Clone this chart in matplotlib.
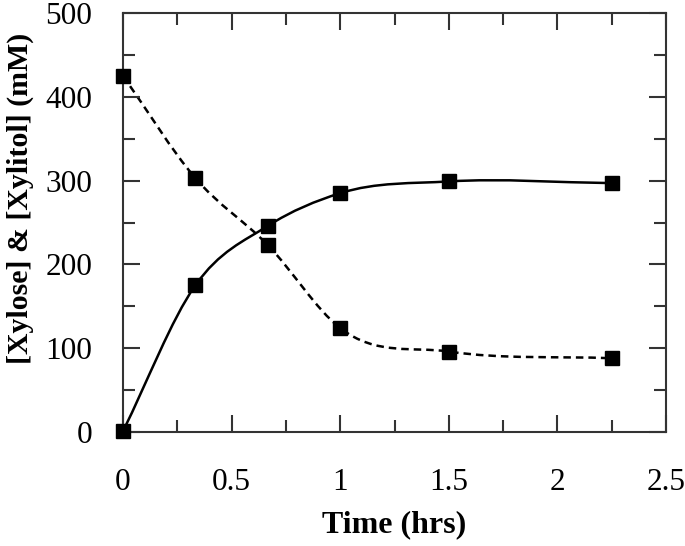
import numpy as np
import matplotlib
matplotlib.use('Agg')
from matplotlib import pyplot as plt
from matplotlib.path import Path
from matplotlib.patches import PathPatch
from matplotlib.ticker import MultipleLocator

time_hrs = [0, 0.333, 0.667, 1.0, 1.5, 2.25]
xylose = [425, 303, 223, 124, 96, 88]
xylitol = [1, 175, 246, 285, 299, 297]


def smooth_path(x, y):
    """cubic bezier path through the points (finite-difference tangents)."""
    x = np.asarray(x, float)
    y = np.asarray(y, float)
    n = len(x)
    m = np.zeros(n)
    for i in range(1, n - 1):
        d0 = (y[i] - y[i - 1]) / (x[i] - x[i - 1])
        d1 = (y[i + 1] - y[i]) / (x[i + 1] - x[i])
        h0 = x[i] - x[i - 1]
        h1 = x[i + 1] - x[i]
        m[i] = (d0 * h1 + d1 * h0) / (h0 + h1)
    m[0] = (y[1] - y[0]) / (x[1] - x[0])
    m[-1] = (y[-1] - y[-2]) / (x[-1] - x[-2])
    verts = [(x[0], y[0])]
    codes = [Path.MOVETO]
    for i in range(n - 1):
        h = x[i + 1] - x[i]
        verts += [(x[i] + h / 3, y[i] + m[i] * h / 3),
                  (x[i + 1] - h / 3, y[i + 1] - m[i + 1] * h / 3),
                  (x[i + 1], y[i + 1])]
        codes += [Path.CURVE4] * 3
    return Path(verts, codes)


plt.rcParams['font.family'] = ['Liberation Serif', 'DejaVu Serif']

fig = plt.figure(figsize=(6.85, 5.46), dpi=100)
ax = fig.add_axes([123 / 685, 1 - 432 / 546, 543 / 685, 419 / 546])

ax.add_patch(PathPatch(smooth_path(time_hrs, xylose), fill=False, color='black',
                       linewidth=1.8, linestyle=(0, (3, 2))))
ax.add_patch(PathPatch(smooth_path(time_hrs, xylitol), fill=False, color='black',
                       linewidth=1.8))
ax.plot(time_hrs, xylose, linestyle='none', marker='s', markersize=10.5,
        color='black', clip_on=False, zorder=3)
ax.plot(time_hrs, xylitol, linestyle='none', marker='s', markersize=10.5,
        color='black', clip_on=False, zorder=3)

ax.set_xlim(0, 2.5)
ax.set_ylim(0, 500)
ax.xaxis.set_major_locator(MultipleLocator(0.5))
ax.xaxis.set_minor_locator(MultipleLocator(0.25))
ax.yaxis.set_major_locator(MultipleLocator(100))
ax.yaxis.set_minor_locator(MultipleLocator(50))
ax.set_xticks([0, 0.5, 1, 1.5, 2, 2.5])
ax.set_xticklabels(['0', '0.5', '1', '1.5', '2', '2.5'])

ax.tick_params(which='both', direction='in', top=True, right=True,
               width=1.5, colors='#333333', labelcolor='black')
ax.tick_params(which='major', length=12, labelsize=22.5, pad=26)
ax.tick_params(which='minor', length=8.5)
ax.tick_params(axis='y', which='major', pad=22)
for spine in ax.spines.values():
    spine.set_linewidth(1.5)
    spine.set_color('#333333')

ax.set_xlabel('Time (hrs)', fontsize=23, fontweight='bold')
ax.set_ylabel('[Xylose] & [Xylitol] (mM)', fontsize=21.5, fontweight='bold')
ax.xaxis.set_label_coords(0.5, -(510 - 432) / 419)
ax.yaxis.set_label_coords(-(123 - 34) / 543, (432 - 198) / 419)

plt.savefig('out.png', dpi=100)
